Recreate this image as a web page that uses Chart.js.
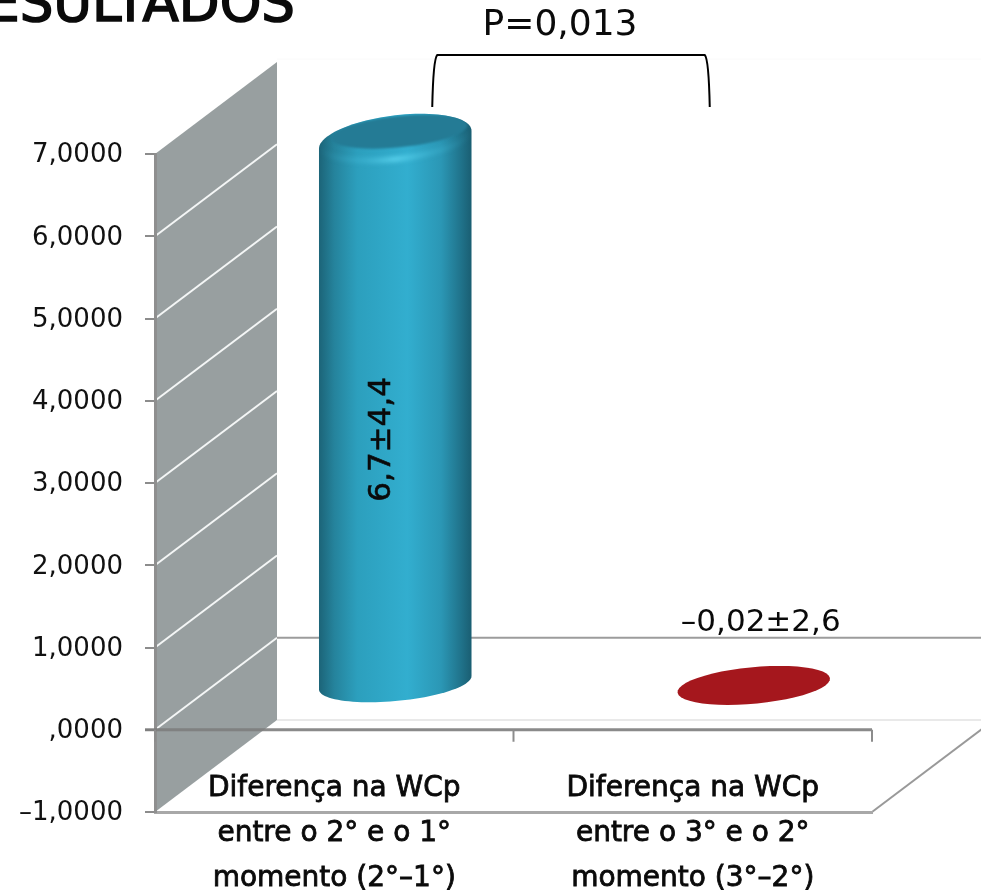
<!DOCTYPE html>
<html lang="pt">
<head>
<meta charset="utf-8">
<title>Resultados</title>
<script src="https://cdn.jsdelivr.net/npm/chart.js@4"></script>
<style>
html,body{margin:0;padding:0;background:#fff;overflow:hidden}
canvas{display:block}
</style>
</head>
<body>
<canvas id="c" width="981" height="894"></canvas>
<script>
const categories = [
  ["Diferença na WCp", "entre o 2° e o 1°", "momento (2°–1°)"],
  ["Diferença na WCp", "entre o 3° e o 2°", "momento (3°–2°)"]
];
const values = [6.7, -0.02];
const valueLabels = ["6,7±4,4", "–0,02±2,6"];
const barColors = ["#2FA8C8", "#A5171D"];
const yTicks = [-1, 0, 1, 2, 3, 4, 5, 6, 7];
const titleText = "RESULTADOS";
const pValueText = "P=0,013";

const FONT = '"DejaVu Sans", sans-serif';
// oblique projection of the depth axis
const DEPTH_X = 122, DEPTH_Y = 92;

function yLabel(v) {
  if (v === 0) return ",0000";
  return (v < 0 ? "–" : "") + Math.abs(v) + ",0000";
}

function line(ctx, x1, y1, x2, y2, color, w) {
  ctx.strokeStyle = color; ctx.lineWidth = w;
  ctx.beginPath(); ctx.moveTo(x1, y1); ctx.lineTo(x2, y2); ctx.stroke();
}

function arc(ctx, cx, cy, a, b, c, t1, t2, moveFirst) {
  for (let i = 0; i <= 48; i++) {
    const t = t1 + (t2 - t1) * i / 48;
    const px = cx + a * Math.cos(t) + b * Math.sin(t), py = cy - c * Math.sin(t);
    if (moveFirst && i === 0) ctx.moveTo(px, py); else ctx.lineTo(px, py);
  }
}

function drawCylinder(ctx, el, color) {
  const a = el.width / 2;
  const b = DEPTH_X * 0.213, c = DEPTH_Y * 0.212;
  const cx = el.x + DEPTH_X / 2;
  const yTop = el.y - DEPTH_Y / 2, yBase = el.base - DEPTH_Y / 2;
  const t0 = Math.atan2(b, a);
  const half = Math.hypot(a, b);
  if (Math.abs(yBase - yTop) < 4) {
    ctx.fillStyle = color;
    ctx.beginPath();
    arc(ctx, cx, yTop, a, b, c, 0, Math.PI * 2);
    ctx.closePath(); ctx.fill();
    return;
  }
  // the bevelled cap bulges more than the plain base ellipse
  const capY = yTop + 7, capC = c * 1.33;
  const outline = () => {
    ctx.beginPath();
    arc(ctx, cx, capY, a, b, capC, t0, t0 + Math.PI);
    arc(ctx, cx, yBase, a, b, c, t0 + Math.PI, t0 + Math.PI * 2);
    ctx.closePath();
  };
  const g = ctx.createLinearGradient(cx - half, 0, cx + half, 0);
  g.addColorStop(0, "#1C6478");
  g.addColorStop(0.1, "#25839C");
  g.addColorStop(0.25, "#2C9FBD");
  g.addColorStop(0.58, "#32AECF");
  g.addColorStop(0.8, "#2B97B5");
  g.addColorStop(0.93, "#20738B");
  g.addColorStop(1, "#1A5E72");
  ctx.save();
  outline();
  ctx.fillStyle = g;
  ctx.fill();
  ctx.clip();
  // soft rim highlight
  const rim = ctx.createLinearGradient(cx - half, 0, cx + half, 0);
  rim.addColorStop(0, "rgba(60,175,205,0)");
  rim.addColorStop(0.3, "rgba(70,190,220,0.65)");
  rim.addColorStop(0.5, "rgba(105,225,250,0.95)");
  rim.addColorStop(0.72, "rgba(70,190,220,0.6)");
  rim.addColorStop(1, "rgba(60,175,205,0)");
  ctx.save();
  ctx.filter = "blur(2.5px)";
  ctx.beginPath();
  arc(ctx, cx, capY - 2, a * 0.99, b, capC * 0.88, Math.PI + t0, Math.PI * 2 + t0, true);
  ctx.strokeStyle = rim;
  ctx.lineWidth = 4;
  ctx.stroke();
  ctx.restore();
  // top face
  ctx.save();
  ctx.filter = "blur(0.8px)";
  ctx.beginPath();
  arc(ctx, cx + 4, capY - 8, a * 0.875, b, c * 0.87, 0, Math.PI * 2);
  ctx.closePath();
  ctx.fillStyle = "#247B95";
  ctx.fill();
  ctx.restore();
  ctx.restore();
}

const scenePlugin = {
  id: "scene",
  beforeDraw(chart) {
    const { ctx, chartArea: ca, scales: { y } } = chart;
    ctx.save();
    ctx.fillStyle = "#fff";
    ctx.fillRect(0, 0, chart.width, chart.height);
    // side wall
    const top = y.getPixelForValue(7), bottom = y.getPixelForValue(-1);
    ctx.fillStyle = "#989FA0";
    ctx.beginPath();
    ctx.moveTo(ca.left, top);
    ctx.lineTo(ca.left + DEPTH_X, top - DEPTH_Y);
    ctx.lineTo(ca.left + DEPTH_X, bottom - DEPTH_Y);
    ctx.lineTo(ca.left, bottom);
    ctx.closePath(); ctx.fill();
    // wall gridlines
    yTicks.forEach(v => {
      if (v <= -1 || v >= 7) return;
      const p = y.getPixelForValue(v);
      line(ctx, ca.left, p, ca.left + DEPTH_X, p - DEPTH_Y, "#F4F6F6", 2);
    });
    // back wall / floor edges
    const bx = ca.left + DEPTH_X, rx = ca.right + DEPTH_X;
    line(ctx, bx, top - DEPTH_Y - 3, rx, top - DEPTH_Y - 3, "#FAFAFA", 1);
    line(ctx, bx, bottom - DEPTH_Y, rx, bottom - DEPTH_Y, "#E2E2E2", 1.5);
    const zero = y.getPixelForValue(0);
    line(ctx, bx, zero - DEPTH_Y, rx, zero - DEPTH_Y, "#9C9C9C", 2);
    // floor outline
    line(ctx, ca.right, bottom, rx, bottom - DEPTH_Y, "#999", 2);
    ctx.restore();
  },
  beforeDatasetsDraw(chart) {
    const { ctx, chartArea: ca, scales: { x, y } } = chart;
    const zero = y.getPixelForValue(0);
    ctx.save();
    line(ctx, ca.left - 10, zero, ca.right, zero, "rgba(125,125,125,0.9)", 3);
    const mid = (x.getPixelForValue(0) + x.getPixelForValue(1)) / 2;
    [ca.left, mid, ca.right].forEach(px => line(ctx, px, zero, px, zero + 12, "#8C8C8C", 2));
    ctx.restore();
  },
  beforeDatasetDraw(chart, args) {
    const { ctx } = chart;
    args.meta.data.forEach((el, i) => drawCylinder(ctx, el, barColors[i]));
    return false;
  },
  afterDatasetsDraw(chart) {
    const { ctx, scales: { y } } = chart;
    const bars = chart.getDatasetMeta(0).data;
    ctx.save();
    ctx.fillStyle = "#0A0A0A";
    ctx.strokeStyle = "#0A0A0A";
    // value labels
    ctx.font = "400 31px " + FONT;
    ctx.textAlign = "center"; ctx.textBaseline = "middle";
    ctx.lineWidth = 0.6;
    ctx.save();
    ctx.translate(bars[0].x + 48, y.getPixelForValue(3.53));
    ctx.rotate(-Math.PI / 2);
    ctx.fillText(valueLabels[0], 0, 0);
    ctx.strokeText(valueLabels[0], 0, 0);
    ctx.restore();
    ctx.fillText(valueLabels[1], bars[1].x + 68, y.getPixelForValue(1.3));
    // significance bracket
    const L = bars[0].x + 98, R = bars[1].x + 17;
    const yb = 107, yt = 55;
    ctx.strokeStyle = "#000"; ctx.lineWidth = 2;
    ctx.beginPath();
    ctx.moveTo(L, yb);
    ctx.quadraticCurveTo(L + 1, yt + 4, L + 5, yt);
    ctx.lineTo(R - 5, yt);
    ctx.quadraticCurveTo(R - 1, yt + 4, R, yb);
    ctx.stroke();
    ctx.font = "400 36px " + FONT;
    ctx.fillText(pValueText, (L + R) / 2 - 11, 26);
    // clipped heading
    ctx.font = "400 53px " + FONT;
    ctx.textAlign = "right"; ctx.textBaseline = "alphabetic";
    ctx.lineWidth = 1.6;
    ctx.strokeStyle = "#0A0A0A";
    ctx.fillText(titleText, 295, 21);
    ctx.strokeText(titleText, 295, 21);
    ctx.restore();
  }
};

new Chart(document.getElementById("c"), {
  type: "bar",
  data: {
    labels: categories,
    datasets: [{
      data: values,
      backgroundColor: barColors,
      barPercentage: 0.4,
      categoryPercentage: 1
    }]
  },
  plugins: [scenePlugin],
  options: {
    responsive: false,
    animation: false,
    devicePixelRatio: 1,
    layout: { padding: { top: 154, right: 109, bottom: 82, left: 0 } },
    plugins: { legend: { display: false }, title: { display: false }, tooltip: { enabled: false } },
    scales: {
      x: {
        grid: { display: false, drawTicks: false },
        border: { display: true, color: "#A8A8A8", width: 3 },
        afterFit(s) { s.height = 0; },
        ticks: {
          autoSkip: false, maxRotation: 0, minRotation: 0, mirror: true, padding: 1,
          color: "#0A0A0A", textStrokeColor: "#0A0A0A", textStrokeWidth: 0.8,
          font: { family: FONT, size: 28, weight: "400", lineHeight: "45px" }
        }
      },
      y: {
        min: -1, max: 7,
        afterFit(s) { s.width = 155; },
        afterBuildTicks(s) { s.ticks = yTicks.map(v => ({ value: v })); },
        grid: { drawOnChartArea: false, drawTicks: true, tickLength: 10, color: "#8C8C8C", lineWidth: 2 },
        border: { display: true, color: "#8F8F8F", width: 3 },
        ticks: {
          padding: 22, labelOffset: 1.5,
          color: "#111",
          font: { family: FONT, size: 26, weight: "400" },
          callback: v => yLabel(v)
        }
      }
    }
  }
});
</script>
</body>
</html>
